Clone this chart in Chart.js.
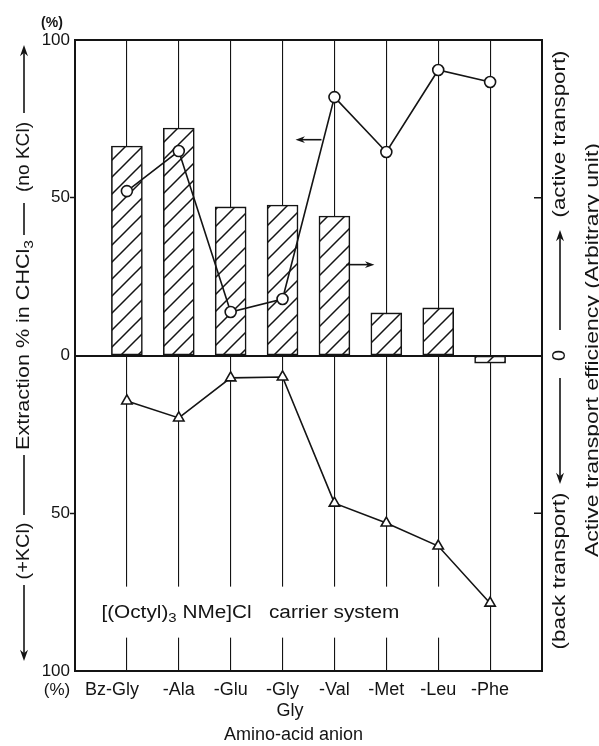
<!DOCTYPE html>
<html><head><meta charset="utf-8">
<script src="https://cdn.jsdelivr.net/npm/chart.js@4/dist/chart.umd.min.js"></script>
<style>html,body{margin:0;padding:0;background:#fff;overflow:hidden}canvas{display:block}</style>
</head><body>
<canvas id="c" width="599" height="746"></canvas>
<script>
// ---- data ----
const categories = ['Bz-Gly', '-Ala', '-Glu', ['-Gly', 'Gly'], '-Val', '-Met', '-Leu', '-Phe'];
const efficiency = [66.4, 72.1, 47.1, 47.7, 44.2, 13.5, 15.1, -2.4];        // hatched bars (right axis)
const extractionNoKCl = [52.1, 64.8, 13.8, 17.9, 81.9, 64.5, 90.5, 86.7];   // circles, upward
const extractionKCl = [14.4, 19.8, 7.1, 6.8, 46.8, 53.1, 60.4, 78.5];       // triangles, plotted downward
const leftTickValues = [-100, -50, 0, 50, 100];
const rightTickValues = [-50, 0, 50];

const FONT = 'Liberation Sans';
const INK = '#141414';
const canvas = document.getElementById('c');
const ctx0 = canvas.getContext('2d');

// hatch pattern
const hatch = (() => {
  const s = 17, c = document.createElement('canvas');
  c.width = s; c.height = s;
  const g = c.getContext('2d');
  g.fillStyle = '#fff'; g.fillRect(0, 0, s, s);
  g.strokeStyle = INK; g.lineWidth = 1.5;
  g.beginPath();
  g.moveTo(-2, s + 2); g.lineTo(s + 2, -2);
  g.moveTo(-2, 2); g.lineTo(2, -2);
  g.moveTo(s - 2, s + 2); g.lineTo(s + 2, s - 2);
  g.stroke();
  return ctx0.createPattern(c, 'repeat');
})();

function xLabel(v) {
  if (!Number.isInteger(v) || v < 0 || v >= categories.length) return '';
  const l = categories[v];
  if (v === 0) return l + '\u00a0\u00a0\u00a0\u00a0\u00a0\u00a0';
  if (Array.isArray(l)) return [l[0], '\u00a0\u00a0\u00a0' + l[1]];
  return l;
}

// ---- drawing helpers ----
function stretchText(ctx, pieces, len, size) {
  const measure = p => { ctx.font = (p.sub ? size * 0.72 : size) + 'px "' + FONT + '"'; return ctx.measureText(p.t).width; };
  const total = pieces.reduce((a, p) => a + measure(p), 0);
  ctx.save();
  ctx.scale(len / total, 1);
  let x = -total / 2;
  ctx.fillStyle = INK; ctx.textBaseline = 'middle'; ctx.textAlign = 'left';
  for (const p of pieces) {
    const w = measure(p);
    ctx.fillText(p.t, x, p.sub ? size * 0.32 : 0);
    x += w;
  }
  ctx.restore();
}
function rotText(ctx, pieces, cx, cy, len, size) {
  ctx.save(); ctx.translate(cx, cy); ctx.rotate(-Math.PI / 2);
  stretchText(ctx, pieces, len, size);
  ctx.restore();
}
function line(ctx, x1, y1, x2, y2, w) {
  ctx.save(); ctx.strokeStyle = INK; ctx.lineWidth = w || 1.5;
  ctx.beginPath(); ctx.moveTo(x1, y1); ctx.lineTo(x2, y2); ctx.stroke(); ctx.restore();
}
function arrow(ctx, x1, y1, x2, y2, head) {
  head = head || 9;
  const a = Math.atan2(y2 - y1, x2 - x1);
  line(ctx, x1, y1, x2 - Math.cos(a) * head * 0.6, y2 - Math.sin(a) * head * 0.6, 1.6);
  ctx.save(); ctx.fillStyle = INK; ctx.beginPath();
  ctx.moveTo(x2, y2);
  ctx.lineTo(x2 - Math.cos(a - 0.34) * head, y2 - Math.sin(a - 0.34) * head);
  ctx.lineTo(x2 - Math.cos(a) * head * 0.65, y2 - Math.sin(a) * head * 0.65);
  ctx.lineTo(x2 - Math.cos(a + 0.34) * head, y2 - Math.sin(a + 0.34) * head);
  ctx.closePath(); ctx.fill(); ctx.restore();
}

const decor = {
  id: 'decor',
  beforeDatasetsDraw(chart) {
    const { ctx, scales: { x, y } } = chart;
    const cx = x.getPixelForValue(2.38), cy = y.getPixelForValue(-81.5);
    ctx.save();
    ctx.fillStyle = '#fff';
    ctx.fillRect(cx - 151, cy - 26, 350, 51);
    ctx.translate(cx, cy);
    stretchText(ctx, [{ t: '[(Octyl)' }, { t: '3', sub: true }, { t: ' NMe]Cl\u00a0\u00a0 carrier system' }], 298, 18);
    ctx.restore();
  },
  afterDraw(chart) {
    const { ctx, chartArea: a, scales: { x, y, y2 } } = chart;
    line(ctx, a.left - 1, a.top, a.right + 1, a.top, 2);
    for (const v of rightTickValues) {
      if (v === 0) continue;
      const py = y2.getPixelForValue(v);
      line(ctx, a.right - 8, py, a.right, py, 1.5);
    }
    arrow(ctx, x.getPixelForValue(3.75), y.getPixelForValue(68.4), x.getPixelForValue(3.25), y.getPixelForValue(68.4), 10);
    arrow(ctx, x.getPixelForValue(4.23), y.getPixelForValue(28.8), x.getPixelForValue(4.77), y.getPixelForValue(28.8), 10);
    ctx.save(); ctx.fillStyle = INK; ctx.textAlign = 'center'; ctx.textBaseline = 'middle';
    ctx.font = 'bold 14px "' + FONT + '"'; ctx.fillText('(%)', 52, 23);
    ctx.font = '17px "' + FONT + '"'; ctx.fillText('(%)', 57, 690);
    ctx.restore();
    // left title
    const L = 24;
    arrow(ctx, L, 113, L, 45, 12);
    rotText(ctx, [{ t: '(no KCl)' }], L, 157, 70, 18);
    line(ctx, L, 203, L, 235, 1.6);
    rotText(ctx, [{ t: 'Extraction % in CHCl' }, { t: '3', sub: true }], L, 345, 210, 18);
    line(ctx, L, 455, L, 515, 1.6);
    rotText(ctx, [{ t: '(+KCl)' }], L, 551, 57, 18);
    arrow(ctx, L, 585, L, 661, 12);
    // right titles
    const R = 560;
    rotText(ctx, [{ t: '(active transport)' }], R, 134, 167, 18);
    arrow(ctx, R, 330, R, 230, 12);
    rotText(ctx, [{ t: '0' }], R, y2.getPixelForValue(0), 11, 18);
    arrow(ctx, R, 378, R, 484, 12);
    rotText(ctx, [{ t: '(back transport)' }], R, 571, 157, 18);
    rotText(ctx, [{ t: 'Active transport efficiency (Arbitrary unit)' }], 593, 350, 414, 18);
  }
};

new Chart(canvas, {
  type: 'bar',
  data: {
    datasets: [
      {
        type: 'line', label: 'Extraction (no KCl)', order: 1, yAxisID: 'y',
        data: extractionNoKCl.map((v, i) => ({ x: i, y: v })),
        borderColor: INK, borderWidth: 1.6, pointStyle: 'circle', pointRadius: 5.5,
        pointBackgroundColor: '#fff', pointBorderColor: INK, pointBorderWidth: 1.6, tension: 0
      },
      {
        type: 'line', label: 'Extraction (+KCl)', order: 1, yAxisID: 'y',
        data: extractionKCl.map((v, i) => ({ x: i, y: -v })),
        borderColor: INK, borderWidth: 1.6, pointStyle: 'triangle', pointRadius: 6,
        pointBackgroundColor: '#fff', pointBorderColor: INK, pointBorderWidth: 1.6, tension: 0
      },
      {
        type: 'bar', label: 'Active transport efficiency', order: 3, yAxisID: 'y2',
        data: efficiency.map((v, i) => ({ x: i, y: v })),
        backgroundColor: hatch, borderColor: INK, borderWidth: 1.6, borderSkipped: false,
        barThickness: 31
      }
    ]
  },
  options: {
    responsive: false, animation: false, devicePixelRatio: 1,
    layout: { padding: { top: 40, left: 0, right: 0, bottom: 0 } },
    plugins: { legend: { display: false }, tooltip: { enabled: false } },
    scales: {
      x: {
        type: 'linear', min: -1, max: 8, offset: false,
        afterFit: s => { s.height = 75; },
        ticks: {
          stepSize: 1, autoSkip: false, maxRotation: 0, minRotation: 0, padding: 8,
          color: INK, font: { family: FONT, size: 18 }, callback: v => xLabel(v)
        },
        grid: {
          offset: false, drawTicks: false, lineWidth: 1.1,
          color: c => (c.tick && c.tick.value >= 0 && c.tick.value < categories.length) ? INK : 'rgba(0,0,0,0)'
        },
        border: { display: true, color: INK, width: 2 },
        title: {
          display: true, text: 'Amino-acid anion\u00a0\u00a0\u00a0\u00a0\u00a0\u00a0', color: INK,
          font: { family: FONT, size: 18 }, padding: { top: 0, bottom: 0 }
        }
      },
      y: {
        position: 'left', min: -100, max: 100,
        afterFit: s => { s.width = 75; },
        afterBuildTicks: s => { s.ticks = leftTickValues.map(v => ({ value: v })); },
        ticks: { padding: 0, color: INK, font: { family: FONT, size: 17 }, callback: v => String(Math.abs(v)) },
        grid: {
          drawTicks: true, tickLength: 5, tickWidth: 1.5,
          color: c => (c.tick && c.tick.value === 0) ? INK : 'rgba(0,0,0,0)',
          lineWidth: c => (c.tick && c.tick.value === 0) ? 2 : 1,
          tickColor: c => (c.tick && Math.abs(c.tick.value) === 50) ? INK : 'rgba(0,0,0,0)'
        },
        border: { display: true, color: INK, width: 2 }
      },
      y2: {
        position: 'right', min: -100, max: 100,
        afterFit: s => { s.width = 57; },
        afterBuildTicks: s => { s.ticks = rightTickValues.map(v => ({ value: v })); },
        ticks: { display: false },
        grid: { drawOnChartArea: false, drawTicks: false },
        border: { display: true, color: INK, width: 2 }
      }
    }
  },
  plugins: [decor]
});
</script>
</body></html>
